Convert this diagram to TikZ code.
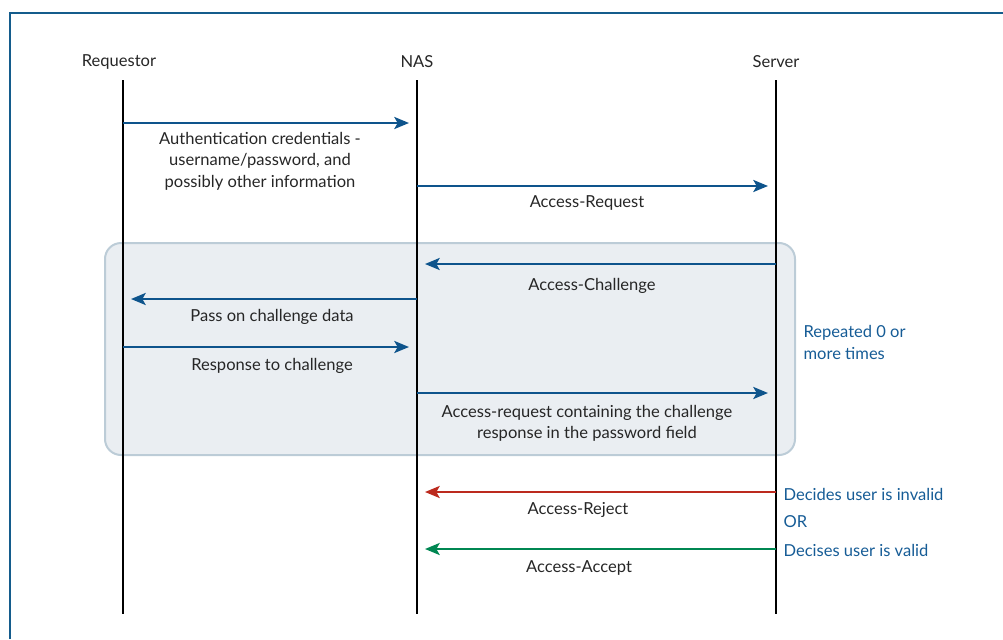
\documentclass[tikz,border=0pt]{standalone}
\usepackage{fontspec}
\setmainfont{Lato}
\usetikzlibrary{arrows.meta}
\definecolor{msgblue}{RGB}{14,84,140}
\definecolor{noteblue}{RGB}{22,92,150}
\definecolor{rejred}{RGB}{188,42,30}
\definecolor{accgreen}{RGB}{0,135,82}
\definecolor{loopfill}{RGB}{234,238,242}
\definecolor{loopdraw}{RGB}{188,204,215}
\definecolor{framecol}{RGB}{20,92,140}
\tikzset{every picture/.style={line width=0.9pt}}
\tikzset{
  lifeline/.style={line width=1.8pt,black},
  msg/.style={line width=1.8pt,msgblue,-{Stealth[length=11pt,width=9pt,inset=2.5pt]},shorten >=6pt},
  lbl/.style={inner sep=0pt,align=center,text=black!85,font=\fontsize{12.4}{16}\selectfont},
  note/.style={lbl,anchor=west,align=left,text=noteblue}
}

\begin{document}
\begin{tikzpicture}[x=0.75pt,y=0.75pt,yscale=-1]
\useasboundingbox (0,0) rectangle (1003,639);
%Frame
\draw [framecol,line width=0.8pt] (10,639) -- (10,13) -- (1003,13) ;
%Loop box
\draw [loopdraw,fill=loopfill,line width=1.5pt,rounded corners=12] (105,243) rectangle (795,455) ;
% Text Node
\node (req) [lbl] at (119,62) {Requestor};
% Text Node
\node (nas) [lbl] at (417,62) {NAS};
% Text Node
\node (srv) [lbl] at (776,62) {Server};
%Lifelines
\coordinate (reqT) at (123,80); \coordinate (reqB) at (123,614);
\coordinate (nasT) at (417,80); \coordinate (nasB) at (417,614);
\coordinate (srvT) at (776,80); \coordinate (srvB) at (776,614);
\draw [lifeline] (reqT) -- (reqB) ;
\draw [lifeline] (nasT) -- (nasB) ;
\draw [lifeline] (srvT) -- (srvB) ;
%Message points
\coordinate (m1a) at (123,123); \coordinate (m1b) at (417,123);
\coordinate (m2a) at (417,186); \coordinate (m2b) at (776,186);
\coordinate (m3a) at (776,264); \coordinate (m3b) at (417,264);
\coordinate (m4a) at (417,299); \coordinate (m4b) at (123,299);
\coordinate (m5a) at (123,347); \coordinate (m5b) at (417,347);
\coordinate (m6a) at (417,393); \coordinate (m6b) at (776,393);
\coordinate (m7a) at (776,492); \coordinate (m7b) at (417,492);
\coordinate (m8a) at (776,549); \coordinate (m8b) at (417,549);
%Straight Lines
\draw [msg] (m1a) -- (m1b) ;
\draw [msg] (m2a) -- (m2b) ;
\draw [msg] (m3a) -- (m3b) ;
\draw [msg] (m4a) -- (m4b) ;
\draw [msg] (m5a) -- (m5b) ;
\draw [msg] (m6a) -- (m6b) ;
\draw [msg,rejred] (m7a) -- (m7b) ;
\draw [msg,accgreen] (m8a) -- (m8b) ;
% Text Node
\node (l1) [lbl] at (260,161) {Authentication credentials -\\username/password, and\\possibly other information};
% Text Node
\node (l2) [lbl] at (587,202.5) {Access-Request};
% Text Node
\node (l3) [lbl] at (592,285.5) {Access-Challenge};
% Text Node
\node (l4) [lbl] at (272,316.5) {Pass on challenge data};
% Text Node
\node (l5) [lbl] at (272,365.5) {Response to challenge};
% Text Node
\node (l6) [lbl] at (587,423) {Access-request containing the challenge\\response in the password field};
% Text Node
\node (l7) [lbl] at (578,509.5) {Access-Reject};
% Text Node
\node (l8) [lbl] at (579,567.5) {Access-Accept};
% Text Node
\node (n1) [note] at (803,342.5) {Repeated 0 or\\more times};
% Text Node
\node (n2) [note] at (783,494) {Decides user is invalid};
% Text Node
\node (n3) [note] at (783,522) {OR};
% Text Node
\node (n4) [note] at (783,550) {Decises user is valid};
\end{tikzpicture}
\end{document}
